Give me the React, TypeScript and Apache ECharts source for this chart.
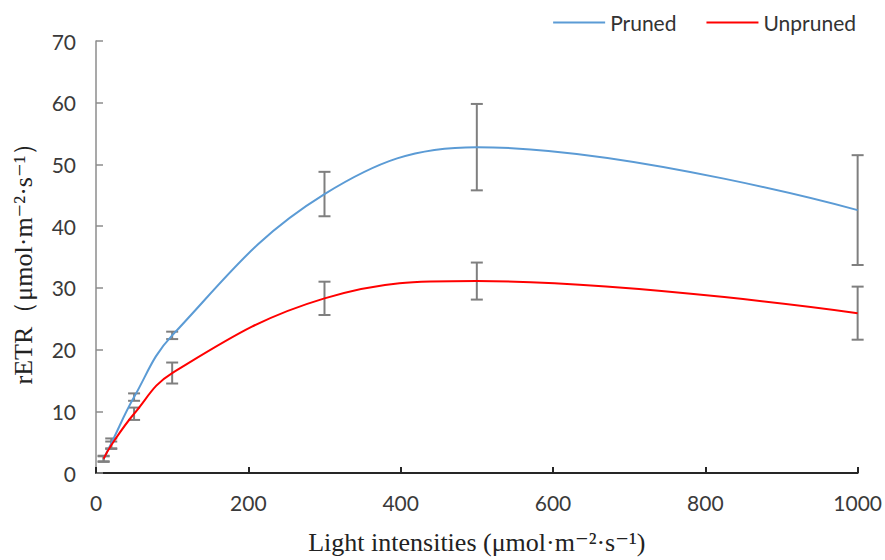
import React, { useEffect, useRef } from "react";
import * as echarts from "echarts";

const lightLevels = [10, 20, 50, 100, 300, 500, 1000];
const prunedMean = [2.3, 4.8, 12.3, 22.3, 45.2, 52.8, 42.6];
const prunedErr = [0.5, 0.8, 0.6, 0.6, 3.6, 7.0, 8.9];
const unprunedMean = [2.3, 4.5, 9.6, 16.2, 28.3, 31.1, 25.9];
const unprunedErr = [0.4, 0.6, 1.0, 1.7, 2.7, 3.0, 4.3];
const xTicks = [0, 200, 400, 600, 800, 1000];

const tickFont = "Lato, 'Open Sans', sans-serif";
const serifFont = "'Liberation Serif', 'DejaVu Serif', serif";

function errorData(means: number[], errs: number[]) {
  return lightLevels.map((x, i) => [x, means[i] - errs[i], means[i] + errs[i]]);
}

function errorSeries(name: string, means: number[], errs: number[]) {
  return {
    type: "custom",
    name,
    data: errorData(means, errs),
    z: 1,
    silent: true,
    renderItem: (params: any, api: any) => {
      const x = api.value(0);
      const lo = api.coord([x, api.value(1)]);
      const hi = api.coord([x, api.value(2)]);
      const hw = 6;
      const style = { stroke: "#7f7f7f", lineWidth: 2 };
      return {
        type: "group",
        children: [
          { type: "line", shape: { x1: lo[0], y1: lo[1], x2: hi[0], y2: hi[1] }, style },
          { type: "line", shape: { x1: lo[0] - hw, y1: lo[1], x2: lo[0] + hw, y2: lo[1] }, style },
          { type: "line", shape: { x1: hi[0] - hw, y1: hi[1], x2: hi[0] + hw, y2: hi[1] }, style },
        ],
      };
    },
  };
}

export default function App() {
  const ref = useRef<HTMLDivElement>(null);
  useEffect(() => {
    const chart = echarts.init(ref.current!, null, { renderer: "svg" });
    chart.setOption({
      animation: false,
      backgroundColor: "#ffffff",
      grid: { left: 96, right: 27, top: 41, bottom: 85 },
      legend: {
        top: 7,
        right: 24,
        itemWidth: 52,
        itemHeight: 14,
        itemGap: 30,
        textStyle: { fontFamily: tickFont, fontSize: 21, color: "#333333" },
        data: [
          { name: "Pruned", icon: "path://M0,6 L52,6 L52,8 L0,8 Z" },
          { name: "Unpruned", icon: "path://M0,6 L52,6 L52,8 L0,8 Z" },
        ],
      },
      xAxis: {
        type: "value",
        min: 0,
        max: 1000,
        interval: 200,
        name: "Light intensities (μmol·m⁻²·s⁻¹)",
        nameLocation: "middle",
        nameGap: 56,
        nameTextStyle: { fontFamily: serifFont, fontSize: 26, color: "#222222" },
        axisLine: { lineStyle: { color: "#262626", width: 2 } },
        axisTick: { inside: true, length: 6, lineStyle: { color: "#262626", width: 2 } },
        axisLabel: {
          margin: 19,
          fontFamily: tickFont,
          fontSize: 21,
          color: "#3a3a3a",
          formatter: (v: number) => (xTicks.includes(v) ? String(v) : ""),
        },
        splitLine: { show: false },
      },
      yAxis: {
        type: "value",
        min: 0,
        max: 70,
        interval: 10,
        name: "rETR（μmol·m⁻²·s⁻¹）",
        nameLocation: "middle",
        nameGap: 60,
        nameTextStyle: { fontFamily: serifFont, fontSize: 26, color: "#222222" },
        axisLine: { show: true, lineStyle: { color: "#8c8c8c", width: 1.5 } },
        axisTick: { show: true, inside: true, length: 7, lineStyle: { color: "#8c8c8c", width: 1.5 } },
        axisLabel: { margin: 20, fontFamily: tickFont, fontSize: 21, color: "#3a3a3a" },
        splitLine: { show: false },
      },
      series: [
        errorSeries("errPruned", prunedMean, prunedErr),
        errorSeries("errUnpruned", unprunedMean, unprunedErr),
        {
          type: "line",
          name: "Pruned",
          data: lightLevels.map((x, i) => [x, prunedMean[i]]),
          smooth: 0.4,
          showSymbol: false,
          symbol: "none",
          lineStyle: { color: "#5b9bd5", width: 2 },
          itemStyle: { color: "#5b9bd5" },
          z: 3,
        },
        {
          type: "line",
          name: "Unpruned",
          data: lightLevels.map((x, i) => [x, unprunedMean[i]]),
          smooth: 0.4,
          showSymbol: false,
          symbol: "none",
          lineStyle: { color: "#ff0000", width: 2 },
          itemStyle: { color: "#ff0000" },
          z: 3,
        },
      ],
    });
    return () => chart.dispose();
  }, []);
  return <div ref={ref} style={{ width: 885, height: 560, position: "absolute", left: 0, top: 0 }} />;
}
